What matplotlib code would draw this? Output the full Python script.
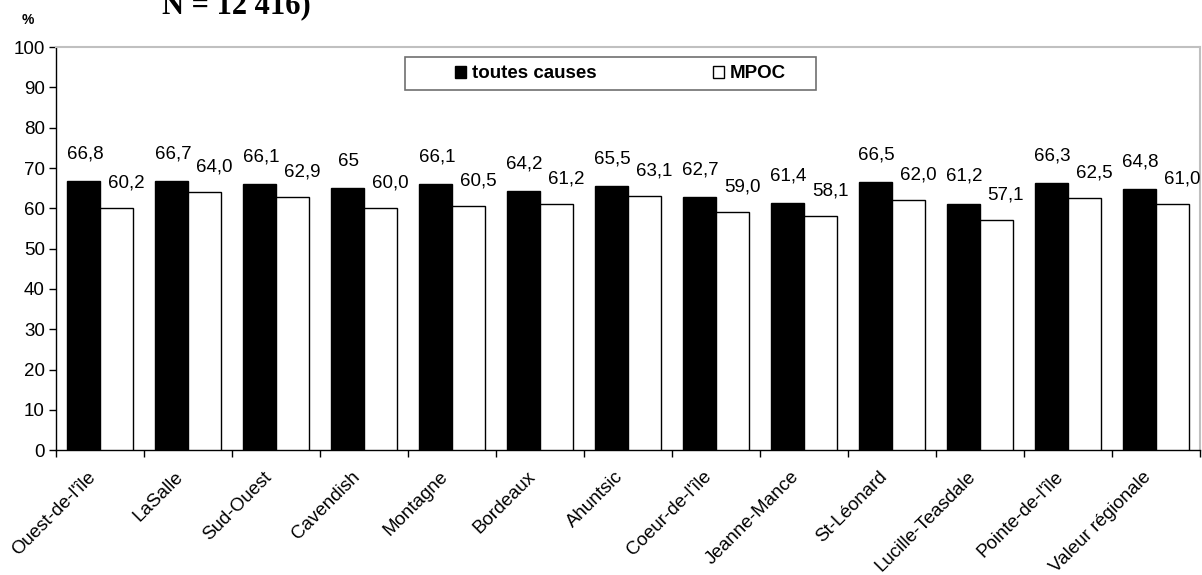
import matplotlib
matplotlib.use("Agg")
import matplotlib.pyplot as plt
import matplotlib.transforms as mtransforms
from matplotlib.patches import Rectangle
import numpy as np

plt.rcParams["font.family"] = ["Liberation Sans", "DejaVu Sans"]

categories = ["Ouest-de-l'île", "LaSalle", "Sud-Ouest", "Cavendish", "Montagne",
              "Bordeaux", "Ahuntsic", "Coeur-de-l'île", "Jeanne-Mance", "St-Léonard",
              "Lucille-Teasdale", "Pointe-de-l'île", "Valeur régionale"]
toutes_causes = [66.8, 66.7, 66.1, 65, 66.1, 64.2, 65.5, 62.7, 61.4, 66.5, 61.2, 66.3, 64.8]
mpoc = [60.2, 64.0, 62.9, 60.0, 60.5, 61.2, 63.1, 59.0, 58.1, 62.0, 57.1, 62.5, 61.0]

FS = 13.5


def fr(v, fmt):
    return format(v, fmt).replace(".", ",")


fig = plt.figure(figsize=(12.02, 5.75), dpi=100)
ax = fig.add_axes([0.0466, 0.217, 0.9514, 0.701])

x = np.arange(len(categories))
w = 0.375
ax.bar(x - w / 2, toutes_causes, w, color="black", edgecolor="black",
       linewidth=1, label="toutes causes", zorder=3)
ax.bar(x + w / 2, mpoc, w, color="white", edgecolor="black",
       linewidth=1, label="MPOC", zorder=3)

for xi, v in zip(x, toutes_causes):
    ax.annotate(fr(v, "g"), (xi - w / 2, v), xytext=(1, 19.5), textcoords="offset points",
                ha="center", va="center", fontsize=FS)
for xi, v in zip(x, mpoc):
    ax.annotate(fr(v, ".1f"), (xi + w / 2, v), xytext=(7, 18), textcoords="offset points",
                ha="center", va="center", fontsize=FS)

ax.set_xlim(-0.5, len(categories) - 0.5)
ax.set_ylim(0, 100)
ax.set_yticks(np.arange(0, 101, 10))
ax.tick_params(axis="y", labelsize=FS, direction="out", length=5, width=1, pad=3)

# ticks between groups, labels under group centres
ax.set_xticks(np.arange(-0.5, len(categories)), minor=False)
ax.set_xticklabels([])
ax.set_xticks(x, minor=True)
ax.set_xticklabels(categories, minor=True, rotation=45, ha="right",
                   rotation_mode="anchor", fontsize=FS)
ax.tick_params(axis="x", which="major", direction="out", length=5, width=1)
ax.tick_params(axis="x", which="minor", length=0, pad=13)
shift = mtransforms.ScaledTranslation(-13 / 100, 0, fig.dpi_scale_trans)
for lbl in ax.get_xticklabels(minor=True):
    lbl.set_transform(lbl.get_transform() + shift)

for s in ("left", "bottom"):
    ax.spines[s].set_color("black")
    ax.spines[s].set_linewidth(1)
for s in ("top", "right"):
    ax.spines[s].set_color("#c0c0c0")
    ax.spines[s].set_linewidth(1.5)

# legend box
ax.add_patch(Rectangle((0.305, 0.893), 0.360, 0.082, transform=ax.transAxes,
                       facecolor="white", edgecolor="#707070", linewidth=1.2, zorder=4))
leg = ax.legend(loc="center left", bbox_to_anchor=(0.349, 0.934), ncol=2,
                frameon=False, handlelength=0.6, handleheight=0.6, handletextpad=0.3,
                borderpad=0, borderaxespad=0, columnspacing=6.2,
                prop={"weight": "bold", "size": FS})
leg.set_zorder(5)

fig.text(0.023, 0.965, "%", fontsize=10, fontweight="bold", ha="center", va="center")
fig.text(0.135, 0.977, "N = 12 416)", family="Liberation Serif", fontsize=22,
         fontweight="bold", ha="left", va="baseline")

fig.savefig("out.png", dpi=100, facecolor="white")
